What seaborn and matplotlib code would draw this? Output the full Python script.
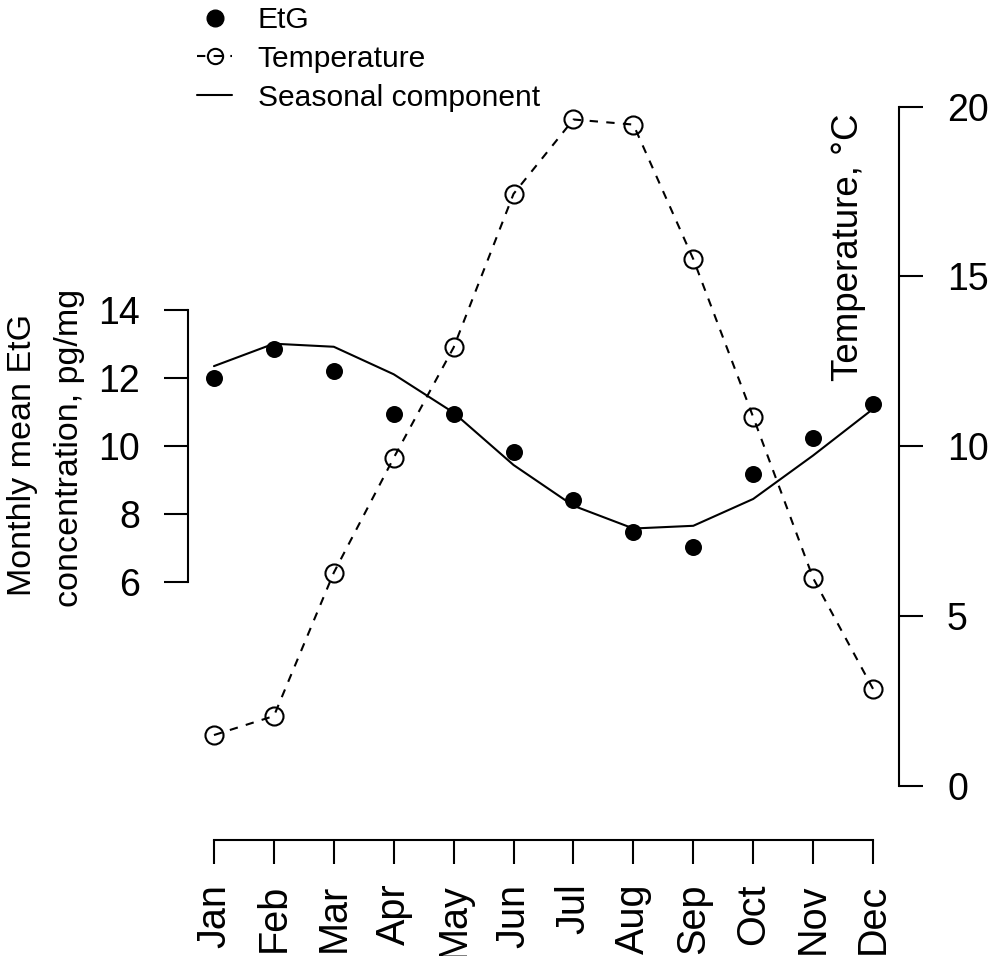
import matplotlib
matplotlib.use("Agg")
import matplotlib.pyplot as plt
from matplotlib.lines import Line2D
import seaborn as sns
import pandas as pd

months = ["Jan", "Feb", "Mar", "Apr", "May", "Jun",
          "Jul", "Aug", "Sep", "Oct", "Nov", "Dec"]
month_num = list(range(1, 13))
etg = [12.00, 12.85, 12.22, 10.95, 10.95, 9.83, 8.43, 7.48, 7.04, 9.17, 10.23, 11.25]
seasonal = [12.36, 13.02, 12.93, 12.12, 10.99, 9.45, 8.25, 7.58, 7.66, 8.45, 9.73, 11.10]
temperature = [1.50, 2.06, 6.28, 9.66, 12.91, 17.43, 19.62, 19.47, 15.51, 10.86, 6.12, 2.86]
left_ticks = [6, 8, 10, 12, 14]
right_ticks = [0, 5, 10, 15, 20]

df = pd.DataFrame({"month": month_num, "etg": etg, "seasonal": seasonal,
                   "temperature": temperature})

sns.set_style("ticks")
plt.rcParams["font.family"] = ["Liberation Sans", "DejaVu Sans"]
for k in ["text.color", "axes.labelcolor", "xtick.color", "ytick.color", "axes.edgecolor"]:
    plt.rcParams[k] = "black"

W, H = 994, 956
fig = plt.figure(figsize=(W / 100, H / 100), dpi=100)
ax_left_px, ax_right_px = 187.6, 899.4
ax_top_px, ax_bot_px = 79.4, 813.2
ax = fig.add_axes([ax_left_px / W, (H - ax_bot_px) / H,
                   (ax_right_px - ax_left_px) / W, (ax_bot_px - ax_top_px) / H])

lw = 1.5
# Temperature (dashed line with open circles)
sns.lineplot(data=df, x="month", y="temperature", ax=ax, color="black",
             linewidth=lw, legend=False)
tline = ax.lines[-1]
tline.set_dashes((4, 4))
tline.set_marker("o")
tline.set_markersize(13)
tline.set_markerfacecolor("none")
tline.set_markeredgecolor("black")
tline.set_markeredgewidth(lw)

# Seasonal component (solid)
sns.lineplot(data=df, x="month", y="seasonal", ax=ax, color="black",
             linewidth=lw, legend=False)

# EtG points
sns.scatterplot(data=df, x="month", y="etg", ax=ax, color="black",
                edgecolor="black", s=150, linewidth=0, zorder=3, legend=False)

ax.set_xlim(0.56, 12.44)
ax.set_ylim(-0.8, 20.8)
ax.set_xlabel("")
ax.set_ylabel("")

tick_len = 17.3
for s in ["top", "right"]:
    ax.spines[s].set_visible(False)
ax.spines["left"].set_bounds(6, 14)
ax.spines["left"].set_linewidth(lw)
ax.spines["bottom"].set_position(("outward", 19.4))
ax.spines["bottom"].set_bounds(1, 12)
ax.spines["bottom"].set_linewidth(lw)
ax.set_yticks(left_ticks)
ax.set_yticklabels([str(v) for v in left_ticks])
ax.set_xticks(month_num)
ax.set_xticklabels(months, rotation=90)
ax.tick_params(axis="y", length=tick_len, width=lw, pad=17, labelsize=27, direction="out")
ax.tick_params(axis="x", length=tick_len, width=lw, pad=14, labelsize=28.5, direction="out")

ax2 = ax.twinx()
ax2.set_ylim(-0.8, 20.8)
for s in ["top", "left", "bottom"]:
    ax2.spines[s].set_visible(False)
ax2.spines["right"].set_bounds(0, 20)
ax2.spines["right"].set_linewidth(lw)
ax2.set_yticks(right_ticks)
ax2.set_yticklabels([str(v) for v in right_ticks])
ax2.tick_params(axis="y", length=tick_len, width=lw, pad=17, labelsize=27, direction="out")

fig.text(848 / W, 1 - 247 / H, "Temperature, °C", rotation=90, fontsize=26.5,
         ha="center", va="center")
fig.text(23 / W, 1 - 455 / H, "Monthly mean EtG", rotation=90, fontsize=24.5,
         ha="center", va="center")
fig.text(70 / W, 1 - 448 / H, "concentration, pg/mg", rotation=90, fontsize=24.5,
         ha="center", va="center")

h_etg = Line2D([], [], color="black", marker="o", linestyle="none", markersize=12)
h_temp = Line2D([], [], color="black", marker="o", markersize=11, markerfacecolor="none",
                markeredgewidth=lw, linewidth=lw, dashes=(4, 4))
h_seas = Line2D([], [], color="black", linewidth=lw)
leg = fig.legend([h_etg, h_temp, h_seas], ["EtG", "Temperature", "Seasonal component"],
                 loc="upper left", bbox_to_anchor=(197 / W, 1 - 6 / H),
                 bbox_transform=fig.transFigure, frameon=False, fontsize=21.6,
                 handlelength=1.17, handletextpad=0.85, labelspacing=0.36,
                 borderpad=0, borderaxespad=0, numpoints=1)

fig.savefig("out.png", dpi=100)
